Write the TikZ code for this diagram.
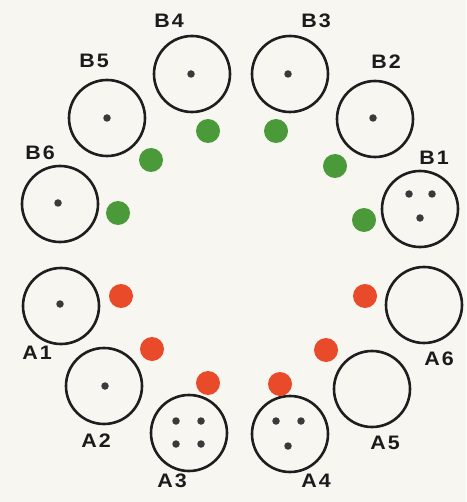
\documentclass[tikz,border=0pt]{standalone}
\usepackage{fontspec}
\newfontfamily\labfont[FakeStretch=1.1]{Liberation Sans Bold}
\definecolor{bgc}{HTML}{F7F6F1}
\definecolor{ink}{HTML}{1E1E1E}
\definecolor{dotc}{HTML}{3A3A3A}
\definecolor{grn}{HTML}{4B9A3A}
\definecolor{rd}{HTML}{E84A2A}
\tikzset{
  socket/.style={circle,draw=ink,line width=2.6pt,minimum size=76pt,inner sep=0pt},
  pin/.style={circle,fill=dotc,minimum size=7.5pt,inner sep=0pt},
  gled/.style={circle,fill=grn,minimum size=24pt,inner sep=0pt},
  rled/.style={circle,fill=rd,minimum size=24pt,inner sep=0pt},
  lab/.style={text=ink!90!black,font=\labfont\fontsize{19.5}{21}\selectfont,inner sep=0pt}
}
\newcommand{\lb}[2]{#1\kern2pt#2}
\begin{document}
\begin{tikzpicture}[x=1pt,y=-1pt]
\fill[bgc] (0,0) rectangle (466,502);
\useasboundingbox (0,0) rectangle (466,502);
% sockets
\node[socket] (B4) at (192,74) {};
\node[socket] (B3) at (290,74) {};
\node[socket] (B2) at (375,119) {};
\node[socket] (B1) at (420,209) {};
\node[socket] (B5) at (107,118) {};
\node[socket] (B6) at (60,204) {};
\node[socket] (A1) at (61,306) {};
\node[socket] (A2) at (104,386) {};
\node[socket] (A3) at (189,433) {};
\node[socket] (A4) at (290,434) {};
\node[socket] (A5) at (372,389) {};
\node[socket] (A6) at (424,305) {};
% pins
\node[pin] (pB4) at (191,74) {};
\node[pin] (pB3) at (288,74) {};
\node[pin] (pB2) at (373,118) {};
\node[pin] (pB5) at (107,118) {};
\node[pin] (pB6) at (58,203) {};
\node[pin] (pA1) at (60,304) {};
\node[pin] (pA2) at (105,386) {};
\node[pin] (pB1a) at (409,194) {};
\node[pin] (pB1b) at (432,194) {};
\node[pin] (pB1c) at (420,218) {};
\node[pin] (pA3a) at (176,421) {};
\node[pin] (pA3b) at (201,421) {};
\node[pin] (pA3c) at (176,444) {};
\node[pin] (pA3d) at (201,444) {};
\node[pin] (pA4a) at (276,421) {};
\node[pin] (pA4b) at (301,421) {};
\node[pin] (pA4c) at (288,446) {};
% LEDs
\node[gled] (g1) at (208,131) {};
\node[gled] (g2) at (151,160) {};
\node[gled] (g3) at (118,213) {};
\node[gled] (g4) at (276,131) {};
\node[gled] (g5) at (335,166) {};
\node[gled] (g6) at (364,220) {};
\node[rled] (r1) at (121,296) {};
\node[rled] (r2) at (152,349) {};
\node[rled] (r3) at (208,383) {};
\node[rled] (r4) at (365,296) {};
\node[rled] (r5) at (326,350) {};
\node[rled] (r6) at (280,384) {};
% labels
\node[lab] (lB4) at (169,21) {\lb{B}{4}};
\node[lab] (lB3) at (316,21) {\lb{B}{3}};
\node[lab] (lB2) at (386,62) {\lb{B}{2}};
\node[lab] (lB1) at (434,158) {\lb{B}{1}};
\node[lab] (lB5) at (94,61) {\lb{B}{5}};
\node[lab] (lB6) at (40,153) {\lb{B}{6}};
\node[lab] (lA1) at (37,353) {\lb{A}{1}};
\node[lab] (lA2) at (96,441) {\lb{A}{2}};
\node[lab] (lA3) at (172,481) {\lb{A}{3}};
\node[lab] (lA4) at (316,481) {\lb{A}{4}};
\node[lab] (lA5) at (385,443) {\lb{A}{5}};
\node[lab] (lA6) at (439,359) {\lb{A}{6}};
\end{tikzpicture}
\end{document}
